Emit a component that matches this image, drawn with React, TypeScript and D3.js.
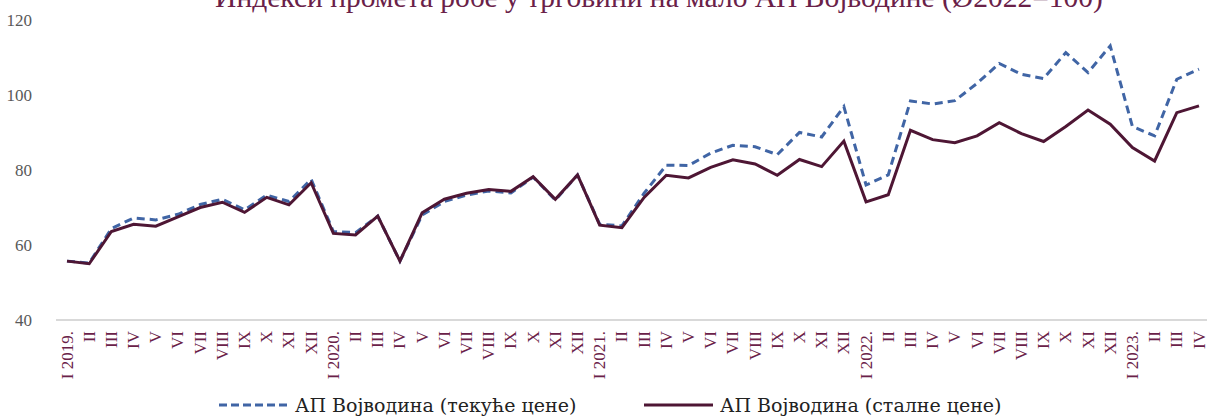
import React from "react";
import * as d3 from "d3";

const months = ["I", "II", "III", "IV", "V", "VI", "VII", "VIII", "IX", "X", "XI", "XII"];
const years = ["2019", "2020", "2021", "2022", "2023"];
const categories: string[] = [];
years.forEach((y, yi) => {
  const n = yi === 4 ? 4 : 12;
  for (let m = 0; m < n; m++) categories.push(m === 0 ? `I ${y}.` : months[m]);
});

const currentPrices = [
  55.7, 55.2, 64.4, 67.2, 66.7, 68.2, 70.8, 72.2, 69.4, 73.3, 71.6, 77.5,
  63.6, 63.3, 67.7, 55.7, 68.0, 71.6, 73.3, 74.4, 73.9, 78.1, 72.0, 78.7,
  65.5, 65.1, 73.8, 81.3, 81.2, 84.5, 86.6, 86.2, 84.1, 90.0, 88.8, 96.9,
  76.0, 78.7, 98.4, 97.6, 98.5, 103.1, 108.4, 105.5, 104.4, 111.3, 106.0, 113.1,
  91.6, 89.1, 104.2, 106.9,
];
const constantPrices = [
  55.7, 55.0, 63.6, 65.5, 65.0, 67.5, 70.0, 71.4, 68.7, 72.7, 70.7, 76.6,
  63.1, 62.7, 67.7, 55.7, 68.6, 72.2, 73.8, 74.8, 74.3, 78.2, 72.2, 78.7,
  65.3, 64.6, 72.7, 78.6, 77.9, 80.7, 82.7, 81.6, 78.6, 82.8, 80.9, 87.7,
  71.5, 73.4, 90.6, 88.1, 87.3, 89.1, 92.6, 89.7, 87.6, 91.6, 96.0, 92.2,
  86.0, 82.4, 95.3, 97.1,
];
const yTicks = [40, 60, 80, 100, 120];

const title = "Индекси промета робе у трговини на мало АП Војводине (Ø2022=100)";
const legendCurrent = "АП Војводина (текуће цене)";
const legendConstant = "АП Војводина (сталне цене)";

const W = 1207;
const H = 416;
const FONT = "'Liberation Serif', 'Times New Roman', serif";
const WIDE = "'DejaVu Serif', serif";
const BLUE = "#4065a5";
const MAROON = "#4e1634";
const LABEL = "#6a2148";

export default function App() {
  const x = d3.scalePoint<string>().domain(categories.map((_, i) => String(i))).range([67, 1199]);
  const y = d3.scaleLinear().domain([40, 120]).range([320, 20]);
  const line = d3
    .line<number>()
    .x((_, i) => x(String(i)) as number)
    .y((d) => y(d));

  return (
    <svg
      width={W}
      height={H}
      style={{ position: "absolute", left: 0, top: 0, background: "#fff" }}
      fontFamily={FONT}
    >
      <text x={659} y={7} textAnchor="middle" fontSize={29.5} fill={LABEL}>
        {title}
      </text>
      {yTicks.map((t) => (
        <text key={t} x={32} y={y(t) + 6} textAnchor="end" fontSize={17} fill="#595959">
          {t}
        </text>
      ))}
      <line x1={56} x2={W} y1={y(40)} y2={y(40)} stroke="#d9d9d9" strokeWidth={2} />
      {categories.map((c, i) => {
        const xx = x(String(i)) as number;
        return (
          <text
            key={i}
            transform={`translate(${xx + 5.5},${331}) rotate(-90)`}
            textAnchor="end"
            fontSize={17}
            fill={LABEL}
          >
            {c}
          </text>
        );
      })}
      <path d={line(currentPrices) || ""} fill="none" stroke={BLUE} strokeWidth={3} strokeDasharray="8,5" />
      <path d={line(constantPrices) || ""} fill="none" stroke={MAROON} strokeWidth={3} />
      <g fontFamily={WIDE}>
        <line x1={219} x2={288} y1={405} y2={405} stroke={BLUE} strokeWidth={3} strokeDasharray="8,4" />
        <text x={295} y={412} fontSize={19} fill="#222">
          {legendCurrent}
        </text>
        <line x1={644} x2={713} y1={405} y2={405} stroke={MAROON} strokeWidth={3} />
        <text x={720} y={412} fontSize={19} fill="#222">
          {legendConstant}
        </text>
      </g>
    </svg>
  );
}
